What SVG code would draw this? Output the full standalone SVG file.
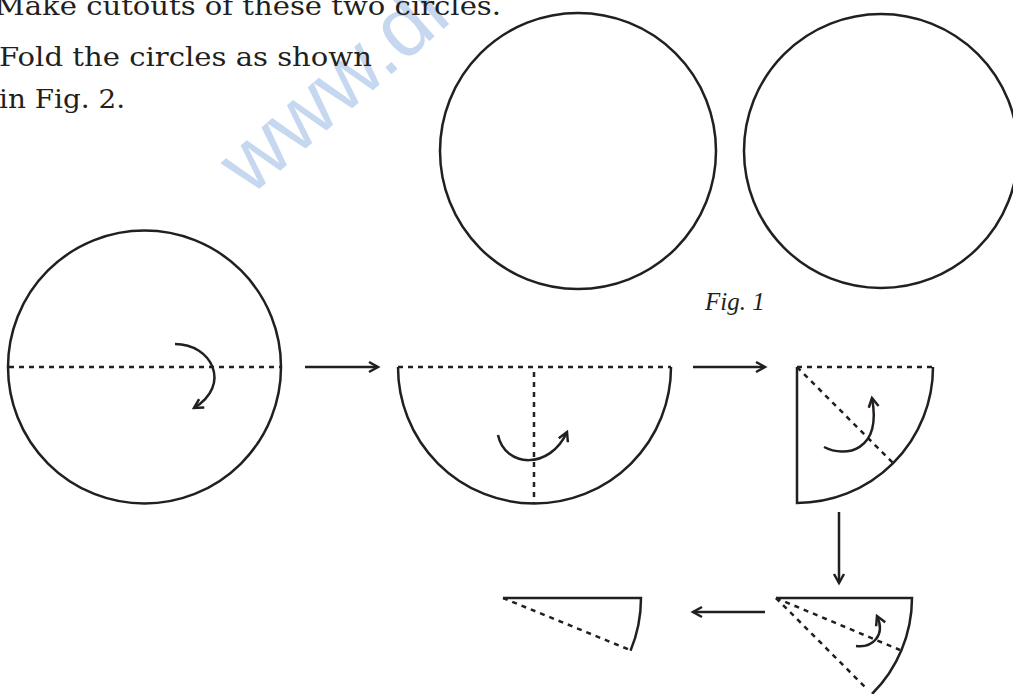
<svg xmlns="http://www.w3.org/2000/svg" width="1013" height="694" viewBox="0 0 1013 694">
<style>
.solid{fill:none;stroke:#231f20;stroke-width:2.5}
.dash{fill:none;stroke:#231f20;stroke-width:2.5;stroke-dasharray:5 5}
.arr{fill:none;stroke:#231f20;stroke-width:2.5;marker-end:url(#chev)}
.body{font-family:"DejaVu Serif","Liberation Serif",serif;font-size:26px;fill:#231f20}
.cap{font-family:"Liberation Serif",serif;font-style:italic;font-size:25px;fill:#231f20}
.wm{font-family:"Liberation Sans",Arial,sans-serif;font-size:85px;fill:#c5d8ef}
</style>
<defs>
<marker id="chev" viewBox="0 0 12 12" refX="10" refY="6" markerWidth="12" markerHeight="12" markerUnits="userSpaceOnUse" orient="auto" overflow="visible">
<path d="M1,1 L10,6 L1,11" fill="none" stroke="#231f20" stroke-width="2.5"/>
</marker>
</defs>
<rect width="1013" height="694" fill="#ffffff"/>
<g id="watermark"><text class="wm" transform="translate(250,197) rotate(-41)">www.dr</text></g>
<g id="instructions">
<text class="body" x="-5" y="15" textLength="506" lengthAdjust="spacingAndGlyphs">Make cutouts of these two circles.</text>
<text class="body" x="-1" y="66" textLength="373" lengthAdjust="spacingAndGlyphs">Fold the circles as shown</text>
<text class="body" x="-1" y="108" textLength="126" lengthAdjust="spacingAndGlyphs">in Fig. 2.</text>
</g>
<g id="fig1-circle-a"><circle class="solid" cx="578" cy="151" r="138"/></g>
<g id="fig1-circle-b"><circle class="solid" cx="881" cy="151" r="137"/></g>
<g id="fig1-label"><text class="cap" x="705" y="310">Fig. 1</text></g>
<g id="step1">
<circle class="solid" cx="144.5" cy="367" r="136.5"/>
<line class="dash" x1="9" y1="367" x2="281" y2="367"/>
<path class="arr" d="M175,344 C212,344 232,385 194,408"/>
</g>
<g id="step2">
<path class="solid" d="M398,367 A136.5,136.5 0 0 0 671,367"/>
<line class="dash" x1="398" y1="367" x2="671" y2="367"/>
<line class="dash" x1="534" y1="372" x2="534" y2="503"/>
<path class="arr" d="M498,435 C505,468 550,470 567,432"/>
</g>
<g id="step3">
<path class="solid" d="M933,367 A136,136 0 0 1 797,503 L797,367"/>
<line class="dash" x1="797" y1="367" x2="933" y2="367"/>
<line class="dash" x1="797" y1="367" x2="893" y2="463"/>
<path class="arr" d="M824,447 C845,458 882,452 872,398"/>
</g>
<g id="step4">
<path class="solid" d="M776,598 L912,598 A136,136 0 0 1 872,694"/>
<line class="dash" x1="776" y1="598" x2="866" y2="688"/>
<line class="dash" x1="776" y1="598" x2="900" y2="650"/>
<path class="arr" d="M856,646 C872,648 886,636 877,616"/>
</g>
<g id="step5">
<path class="solid" d="M503,598 L641,598 A138,138 0 0 1 630.5,650.8"/>
<line class="dash" x1="503" y1="598" x2="630" y2="650"/>
</g>
<g id="connectors">
<line class="arr" x1="305" y1="367" x2="378" y2="367"/>
<line class="arr" x1="693" y1="367" x2="765" y2="367"/>
<line class="arr" x1="839" y1="512" x2="839" y2="583"/>
<line class="arr" x1="765" y1="612" x2="693" y2="612"/>
</g>
</svg>
